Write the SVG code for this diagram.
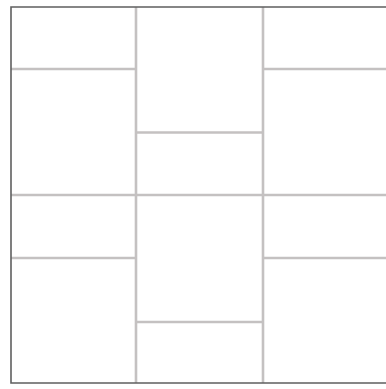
<svg xmlns="http://www.w3.org/2000/svg" width="386" height="389" viewBox="0 0 386 389">
<style>
.grout{stroke:#c4c1c1;stroke-width:2.6;fill:none;stroke-linecap:butt}
.edge{stroke:#5f5f5f;stroke-width:1.6;fill:none}
</style>
<rect width="386" height="389" fill="#ffffff"/>
<g id="grout">
<line class="grout" x1="136" y1="7" x2="136" y2="383"/>
<line class="grout" x1="263" y1="7" x2="263" y2="383"/>
<line class="grout" x1="11" y1="69" x2="136" y2="69"/>
<line class="grout" x1="263" y1="69" x2="386" y2="69"/>
<line class="grout" x1="136" y1="132.5" x2="263" y2="132.5"/>
<line class="grout" x1="11" y1="195" x2="386" y2="195"/>
<line class="grout" x1="11" y1="258" x2="136" y2="258"/>
<line class="grout" x1="263" y1="258" x2="386" y2="258"/>
<line class="grout" x1="136" y1="322" x2="263" y2="322"/>
</g>
<g id="border">
<polyline class="edge" points="386,7 11,7 11,383 386,383"/>
</g>
</svg>
